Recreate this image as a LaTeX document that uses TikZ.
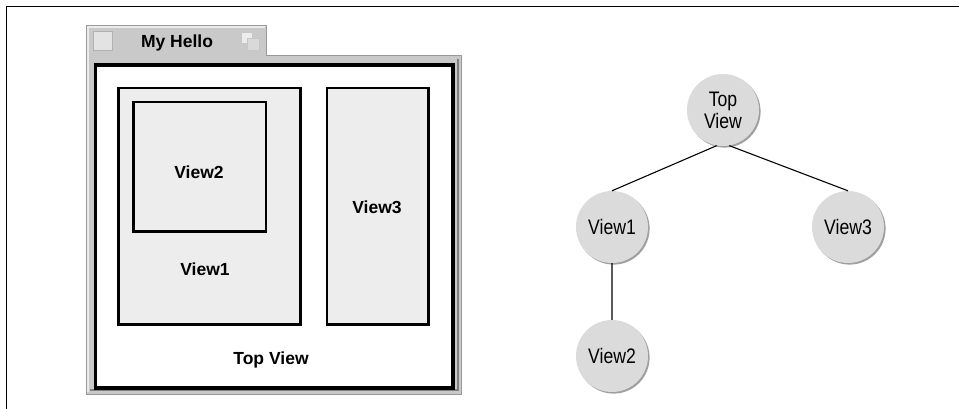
\documentclass[tikz,border=0pt]{standalone}
\usepackage{fontspec}
\setsansfont{Liberation Sans}
\newfontfamily\narrowfont[FakeStretch=0.84]{Liberation Sans}
\usetikzlibrary{positioning, shadows}

\begin{document}
\begin{tikzpicture}[x=1pt, y=-1pt, node distance=3cm, on grid,
    box/.style={draw, line width=2.5pt, fill=gray!14},
    wlabel/.style={font=\fontsize{17.5}{19}\selectfont\sffamily\bfseries},
    view/.style={circle, fill=gray!28, minimum size=72pt, inner sep=0pt, align=center,
        font=\fontsize{21}{22}\selectfont\narrowfont,
        drop shadow={shadow xshift=1.6pt, shadow yshift=-1.6pt, fill=gray!75, opacity=1}}]
    \useasboundingbox (0,0) rectangle (959,409);
    \draw[line width=1.6pt] (959,6.5) -- (6.5,6.5) -- (6.5,409);

    % window frame and title tab
    \draw[gray!80, fill=gray!42, line width=1pt] (86.5,25.5) -- (266.5,25.5) -- (266.5,55.5)
        -- (461.5,55.5) -- (461.5,394.5) -- (86.5,394.5) -- cycle;
    \draw[white!85!gray, line width=1.2pt] (88,392) -- (88,27) -- (265,27);
    \draw[gray, line width=1.4pt] (90,390) -- (458,390) -- (458,59);
    \draw[gray!60, fill=gray!22] (93.5,31.5) rectangle (112.5,50.5);
    \draw[gray!45, fill=gray!15] (241.5,32.5) rectangle (252.5,43.5);
    \draw[gray!45, fill=gray!30] (247.5,38.5) rectangle (259.5,50.5);
    \node[wlabel] (title) at (177,43) {My Hello};

    % top view with its children
    \draw[line width=3.5pt, fill=white] (95.5,65) rectangle (453,388);
    \draw[box] (118.5,88) rectangle (300.5,324.5);
    \draw[box] (133.5,102) rectangle (266,231.5);
    \draw[box] (327,88) rectangle (428.5,324.5);
    \node[wlabel] (w2) at (199,172) {View2};
    \node[wlabel] (w1) at (205,269) {View1};
    \node[wlabel] (w3) at (377,207) {View3};
    \node[wlabel] (wtop) at (271,360) {Top View};

    % the tree
    \node[view] (top) at (723,110) {Top\\View};
    \node[view, below left=117pt and 111pt of top] (v1) {View1};
    \node[view, below right=117pt and 125pt of top] (v3) {View3};
    \node[view, below=129pt of v1] (v2) {View2};

    \draw[line width=1.1pt]
    (top.-100) -- (v1.north)
    (top.-80) -- (v3.north)
    (v1.south) -- (v2.north);
\end{tikzpicture}
\end{document}
